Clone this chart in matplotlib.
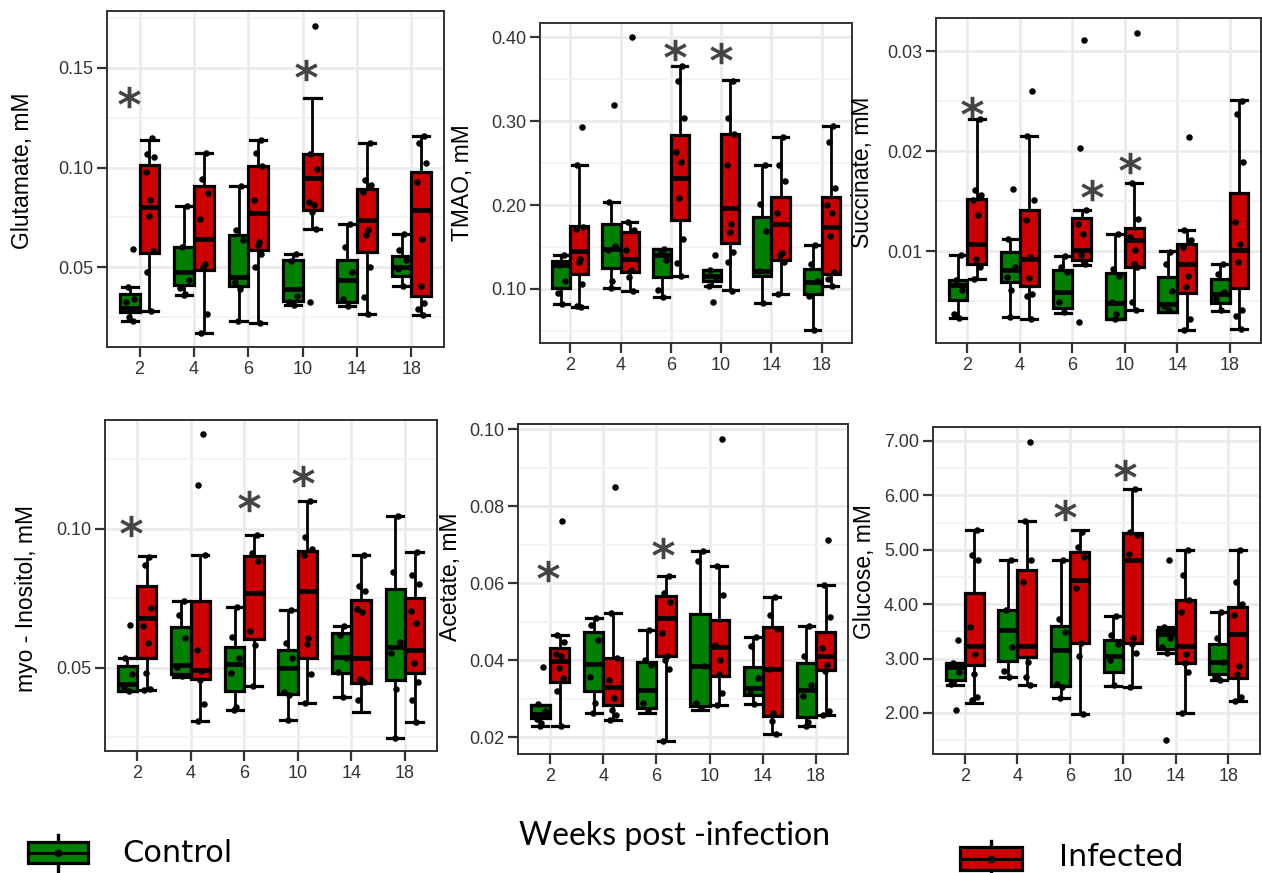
import numpy as np
import matplotlib
matplotlib.use("Agg")
import matplotlib.pyplot as plt
from matplotlib.textpath import TextPath
from matplotlib.font_manager import FontProperties
from matplotlib.path import Path
from matplotlib.patches import Rectangle
from matplotlib.ticker import FixedLocator, NullFormatter

plt.rcParams["font.family"] = ["Liberation Sans", "DejaVu Sans"]

WEEKS = ["2", "4", "6", "10", "14", "18"]

# ---- box statistics per week: (whisker low, Q1, median, Q3, whisker high) ----
glu_ctrl_stats = [(0.0228, 0.0275, 0.0295, 0.0367, 0.0400), (0.0362, 0.0409, 0.0476, 0.0601, 0.0807),
                  (0.0228, 0.0404, 0.0450, 0.0660, 0.0908), (0.0313, 0.0333, 0.0392, 0.0534, 0.0565),
                  (0.0308, 0.0325, 0.0437, 0.0538, 0.0715), (0.0404, 0.0454, 0.0500, 0.0554, 0.0665)]
glu_inf_stats = [(0.0283, 0.0573, 0.0802, 0.1015, 0.1140), (0.0169, 0.0484, 0.0643, 0.0906, 0.1074),
                 (0.0220, 0.0588, 0.0774, 0.1008, 0.1140), (0.0692, 0.0786, 0.0950, 0.1067, 0.1347),
                 (0.0263, 0.0575, 0.0739, 0.0894, 0.1124), (0.0258, 0.0355, 0.0789, 0.0978, 0.1157)]
glu_ctrl_pts = [[0.0593, 0.0400, 0.0340, 0.0325, 0.0290, 0.0250, 0.0230],
                [0.0807, 0.0601, 0.0437, 0.0397, 0.0367, 0.0362],
                [0.0908, 0.0685, 0.0638, 0.0425, 0.0390, 0.0228],
                [0.0565, 0.0530, 0.0358, 0.0325, 0.0313],
                [0.0715, 0.0600, 0.0476, 0.0342, 0.0308],
                [0.0665, 0.0588, 0.0534, 0.0492, 0.0404]]
glu_inf_pts = [[0.1146, 0.1067, 0.1054, 0.0977, 0.0836, 0.0755, 0.0580, 0.0476, 0.0283],
               [0.1074, 0.0945, 0.0873, 0.0740, 0.0518, 0.0500, 0.0266, 0.0169],
               [0.1140, 0.1074, 0.1007, 0.0836, 0.0627, 0.0610, 0.0568, 0.0500, 0.0220],
               [0.1710, 0.1070, 0.0995, 0.0828, 0.0810, 0.0776, 0.0692, 0.0325],
               [0.1124, 0.0936, 0.0911, 0.0878, 0.0688, 0.0660, 0.0500, 0.0353, 0.0263],
               [0.1157, 0.1124, 0.1023, 0.0928, 0.0643, 0.0404, 0.0320, 0.0291, 0.0258]]

tmao_ctrl_stats = [(0.0817, 0.1016, 0.129, 0.133, 0.141), (0.1016, 0.125, 0.148, 0.177, 0.2036),
                   (0.0905, 0.114, 0.140, 0.148, 0.148), (0.103, 0.110, 0.115, 0.123, 0.123),
                   (0.0833, 0.115, 0.121, 0.1858, 0.248), (0.0508, 0.0936, 0.108, 0.124, 0.152)]
tmao_inf_stats = [(0.0786, 0.1175, 0.145, 0.175, 0.248), (0.0976, 0.120, 0.136, 0.168, 0.180),
                  (0.115, 0.1826, 0.2326, 0.283, 0.366), (0.0984, 0.1548, 0.197, 0.285, 0.3485),
                  (0.0936, 0.135, 0.177, 0.209, 0.281), (0.103, 0.1175, 0.174, 0.210, 0.2937)]
tmao_ctrl_pts = [[0.141, 0.129, 0.110, 0.095, 0.082],
                 [0.319, 0.204, 0.151, 0.146, 0.1095, 0.1016],
                 [0.148, 0.142, 0.134, 0.0984, 0.0905],
                 [0.140, 0.123, 0.114, 0.103, 0.0845],
                 [0.248, 0.2016, 0.169, 0.121, 0.0833],
                 [0.152, 0.130, 0.110, 0.092, 0.0508]]
tmao_inf_pts = [[0.293, 0.248, 0.174, 0.171, 0.136, 0.132, 0.106, 0.080, 0.0786],
                [0.400, 0.180, 0.170, 0.147, 0.123, 0.114, 0.0976],
                [0.366, 0.348, 0.304, 0.263, 0.251, 0.208, 0.159, 0.131, 0.115],
                [0.348, 0.304, 0.285, 0.248, 0.177, 0.168, 0.144, 0.132, 0.098],
                [0.281, 0.248, 0.229, 0.190, 0.143, 0.140, 0.132, 0.094],
                [0.294, 0.275, 0.220, 0.200, 0.191, 0.163, 0.120, 0.112, 0.103]]

suc_ctrl_stats = [(0.00329, 0.00506, 0.0066, 0.00706, 0.00957), (0.0034, 0.0069, 0.0081, 0.0099, 0.0112),
                  (0.0038, 0.0043, 0.0059, 0.0081, 0.0095), (0.0032, 0.0032, 0.0048, 0.0078, 0.0117),
                  (0.0039, 0.0039, 0.0047, 0.0074, 0.0100), (0.0040, 0.0048, 0.0057, 0.0072, 0.0087)]
suc_inf_stats = [(0.00723, 0.00866, 0.0107, 0.01524, 0.0232), (0.0032, 0.00646, 0.0092, 0.0141, 0.0215),
                 (0.0086, 0.0091, 0.0101, 0.0133, 0.0141), (0.0041, 0.0084, 0.0111, 0.0123, 0.0168),
                 (0.0021, 0.0058, 0.0087, 0.0107, 0.0121), (0.0022, 0.0063, 0.0101, 0.0158, 0.0251)]
suc_ctrl_pts = [[0.00957, 0.0071, 0.0061, 0.0037, 0.0033],
                [0.0162, 0.0112, 0.0084, 0.0074, 0.0061, 0.0034],
                [0.0095, 0.0084, 0.0079, 0.0049, 0.0039],
                [0.0117, 0.0082, 0.0075, 0.0049, 0.0037, 0.0032],
                [0.0099, 0.0087, 0.0060, 0.0045, 0.0041],
                [0.0087, 0.0077, 0.0059, 0.0052, 0.0041]]
suc_inf_pts = [[0.0232, 0.0161, 0.0156, 0.0151, 0.0136, 0.0092, 0.0084, 0.0072],
               [0.0260, 0.0215, 0.0151, 0.0131, 0.0094, 0.0073, 0.0057, 0.0055, 0.0032],
               [0.0311, 0.0203, 0.0141, 0.0127, 0.0117, 0.0096, 0.0087, 0.0029],
               [0.0318, 0.0168, 0.0132, 0.0114, 0.0101, 0.0087, 0.0084, 0.0049, 0.0041],
               [0.0214, 0.0121, 0.0111, 0.0104, 0.0075, 0.0064, 0.0032, 0.0021],
               [0.0250, 0.0237, 0.0189, 0.0129, 0.0107, 0.0089, 0.0041, 0.0035, 0.0022]]

myo_ctrl_stats = [(0.0417, 0.0417, 0.0443, 0.0506, 0.0536), (0.0467, 0.0477, 0.0510, 0.0648, 0.0739),
                  (0.0347, 0.0417, 0.0513, 0.0576, 0.0720), (0.0313, 0.0405, 0.0498, 0.0564, 0.0708),
                  (0.0395, 0.0482, 0.0540, 0.0624, 0.0652), (0.0248, 0.0455, 0.0576, 0.0783, 0.1046)]
myo_inf_stats = [(0.0419, 0.0534, 0.0678, 0.0793, 0.0901), (0.0308, 0.0461, 0.0492, 0.0739, 0.0905),
                 (0.0434, 0.0604, 0.0769, 0.0904, 0.0980), (0.0373, 0.0534, 0.0775, 0.0919, 0.1100),
                 (0.0343, 0.0446, 0.0536, 0.0745, 0.0907), (0.0305, 0.0482, 0.0566, 0.0753, 0.0917)]
myo_ctrl_pts = [[0.0654, 0.0536, 0.0477, 0.0431, 0.0417],
                [0.0739, 0.0690, 0.0608, 0.0504, 0.0470],
                [0.0720, 0.0612, 0.0534, 0.0482, 0.0359, 0.0347],
                [0.0708, 0.0590, 0.0537, 0.0413, 0.0401, 0.0313],
                [0.0652, 0.0618, 0.0534, 0.0486, 0.0395],
                [0.1046, 0.0845, 0.0594, 0.0552, 0.0425, 0.0248]]
myo_inf_pts = [[0.0900, 0.0871, 0.0714, 0.0650, 0.0588, 0.0480, 0.0425, 0.0419],
               [0.1340, 0.1157, 0.0905, 0.0566, 0.0490, 0.0455, 0.0371, 0.0308],
               [0.0980, 0.0913, 0.0883, 0.0634, 0.0582, 0.0434],
               [0.1100, 0.0971, 0.0928, 0.0907, 0.0606, 0.0586, 0.0477, 0.0373],
               [0.0907, 0.0793, 0.0778, 0.0711, 0.0702, 0.0461, 0.0449, 0.0383],
               [0.0917, 0.0835, 0.0802, 0.0706, 0.0660, 0.0516, 0.0449, 0.0386, 0.0305]]

ace_ctrl_stats = [(0.0230, 0.0249, 0.0260, 0.0284, 0.0284), (0.0262, 0.0319, 0.0390, 0.0473, 0.0509),
                  (0.0262, 0.0275, 0.0323, 0.0394, 0.0479), (0.0269, 0.0281, 0.0384, 0.0520, 0.0684),
                  (0.0286, 0.0310, 0.0327, 0.0381, 0.0460), (0.0228, 0.0252, 0.0323, 0.0392, 0.0489)]
ace_inf_stats = [(0.0229, 0.0342, 0.0397, 0.0431, 0.0464), (0.0243, 0.0284, 0.0329, 0.0405, 0.0522),
                 (0.0191, 0.0410, 0.0509, 0.0567, 0.0617), (0.0284, 0.0359, 0.0435, 0.0505, 0.0645),
                 (0.0209, 0.0255, 0.0377, 0.0487, 0.0565), (0.0258, 0.0375, 0.0410, 0.0474, 0.0596)]
ace_ctrl_pts = [[0.0381, 0.0287, 0.0267, 0.0247, 0.0236, 0.0230],
                [0.0509, 0.0492, 0.0451, 0.0356, 0.0288, 0.0262],
                [0.0479, 0.0399, 0.0388, 0.0288, 0.0267],
                [0.0684, 0.0656, 0.0384, 0.0288, 0.0275],
                [0.0460, 0.0436, 0.0353, 0.0314, 0.0287],
                [0.0489, 0.0411, 0.0336, 0.0306, 0.0238, 0.0228]]
ace_inf_pts = [[0.0762, 0.0464, 0.0446, 0.0416, 0.0410, 0.0379, 0.0353, 0.0320, 0.0229],
               [0.0849, 0.0522, 0.0405, 0.0347, 0.0301, 0.0271, 0.0258, 0.0243],
               [0.0617, 0.0574, 0.0550, 0.0470, 0.0410, 0.0399, 0.0377, 0.0191],
               [0.0974, 0.0645, 0.0568, 0.0440, 0.0401, 0.0365, 0.0314, 0.0284],
               [0.0565, 0.0518, 0.0480, 0.0377, 0.0262, 0.0241, 0.0209],
               [0.0713, 0.0596, 0.0513, 0.0431, 0.0388, 0.0371, 0.0267, 0.0258]]

glc_ctrl_stats = [(2.51, 2.61, 2.85, 2.92, 2.92), (2.67, 2.95, 3.53, 3.90, 4.82),
                  (2.28, 2.49, 3.15, 3.59, 4.81), (2.49, 2.75, 3.04, 3.35, 3.78),
                  (3.10, 3.18, 3.46, 3.53, 3.58), (2.60, 2.72, 2.94, 3.27, 3.86)]
glc_inf_stats = [(2.18, 2.88, 3.23, 4.21, 5.36), (2.51, 3.03, 3.23, 4.62, 5.52),
                 (1.98, 3.29, 4.44, 4.96, 5.37), (2.47, 3.29, 4.82, 5.30, 6.11),
                 (2.00, 2.92, 3.23, 4.08, 5.00), (2.22, 2.65, 3.46, 3.94, 4.99)]
glc_ctrl_pts = [[3.34, 2.91, 2.75, 2.54, 2.05],
                [4.82, 3.90, 3.21, 2.77, 2.67],
                [4.81, 3.72, 3.49, 2.54, 2.47, 2.28],
                [3.78, 3.44, 3.26, 2.97, 2.51],
                [4.82, 3.58, 3.38, 3.21, 3.10, 1.50],
                [3.86, 3.38, 2.94, 2.66, 2.60]]
glc_inf_pts = [[5.36, 4.90, 4.81, 3.58, 3.09, 2.72, 2.29, 2.23],
               [6.99, 5.52, 4.81, 4.41, 2.94, 2.67, 2.51],
               [5.33, 5.05, 4.87, 4.30, 3.29, 3.04, 1.98],
               [6.11, 5.33, 5.27, 4.93, 3.37, 3.27, 3.10, 2.47],
               [5.00, 4.53, 4.08, 3.86, 3.09, 2.91, 2.75, 2.00],
               [4.99, 4.41, 4.00, 3.81, 2.86, 2.71, 2.29, 2.22]]

# ---- styling ----
GREEN = "#008000"
RED = "#CC0000"
INK = "#333333"
GRID = "#EBEBEB"
STAR_COLOR = "#444444"
OFF = 0.18      # dodge offset of each group from the week position
BOXW = 0.36     # box width
CAPW = 0.30     # whisker cap width
JITTER = np.array([0.05, -0.04, 0.08, -0.07, 0.02, -0.01, 0.06, -0.05, 0.03])

W, H = 1262, 873
fig = plt.figure(figsize=(W / 100, H / 100), dpi=100)


def px_axes(left, top, right, bottom):
    return fig.add_axes([left / W, 1 - bottom / H, (right - left) / W, (bottom - top) / H])


# centred bold asterisk used as significance marker
_tp = TextPath((0, 0), "*", size=1, prop=FontProperties(family="DejaVu Sans", weight="bold"))
_ext = _tp.get_extents()
_verts = _tp.vertices - [(_ext.x0 + _ext.x1) / 2, (_ext.y0 + _ext.y1) / 2]
_verts[_tp.codes == Path.CLOSEPOLY] = 0.0
STAR = Path(_verts, _tp.codes)


def draw_panel(ax, ctrl_stats, inf_stats, ctrl_pts, inf_pts, major, minor, ylim, fmt, stars):
    pos = np.arange(1, len(WEEKS) + 1)
    for stats, pts, color, shift in ((ctrl_stats, ctrl_pts, GREEN, -OFF),
                                     (inf_stats, inf_pts, RED, OFF)):
        bstats = [dict(whislo=s[0], q1=s[1], med=s[2], q3=s[3], whishi=s[4], fliers=[]) for s in stats]
        ax.bxp(bstats, positions=pos + shift, widths=BOXW, capwidths=CAPW, patch_artist=True,
               showfliers=False, manage_ticks=False,
               boxprops=dict(facecolor=color, edgecolor="black", linewidth=2.3),
               medianprops=dict(color="black", linewidth=3.4, solid_capstyle="butt"),
               whiskerprops=dict(color="black", linewidth=2.0),
               capprops=dict(color="black", linewidth=2.3))
        for i, vals in enumerate(pts):
            xs = pos[i] + shift + JITTER[:len(vals)]
            ax.scatter(xs, vals, s=22, color="black", linewidths=0, zorder=5)
    for idx, dx, y in stars:
        ax.plot(pos[idx] + dx, y, marker=STAR, markersize=16, color=STAR_COLOR,
                markeredgewidth=0, linestyle="none", zorder=6)

    ax.set_xlim(0.4, len(WEEKS) + 0.6)
    ax.set_ylim(*ylim)
    ax.set_xticks(pos)
    ax.set_xticklabels(WEEKS)
    ax.yaxis.set_major_locator(FixedLocator(major))
    ax.set_yticklabels([fmt.format(v) for v in major])
    ax.yaxis.set_minor_locator(FixedLocator(minor))
    ax.yaxis.set_minor_formatter(NullFormatter())
    ax.set_axisbelow(True)
    ax.grid(True, which="major", color=GRID, linewidth=2.0)
    ax.grid(True, which="minor", axis="y", color="#F2F2F2", linewidth=1.2)
    ax.tick_params(axis="both", which="major", length=7, width=1.6, color=INK,
                   labelsize=13, labelcolor=INK, pad=3)
    ax.tick_params(axis="y", which="minor", length=0)
    for sp in ax.spines.values():
        sp.set_color(INK)
        sp.set_linewidth(1.4)


panels = [
    dict(box=(107, 11, 444, 347), lab=(23, 171), name="Glutamate, mM",
         data=(glu_ctrl_stats, glu_inf_stats, glu_ctrl_pts, glu_inf_pts),
         major=[0.05, 0.10, 0.15], minor=[0.025, 0.075, 0.125, 0.175], ylim=(0.010, 0.1785), fmt="{:.2f}",
         stars=[(0, -0.20, 0.1355), (3, 0.06, 0.149)]),
    dict(box=(540, 23, 852, 343), lab=(463, 183), name="TMAO, mM",
         data=(tmao_ctrl_stats, tmao_inf_stats, tmao_ctrl_pts, tmao_inf_pts),
         major=[0.10, 0.20, 0.30, 0.40], minor=[0.05, 0.15, 0.25, 0.35], ylim=(0.0357, 0.4167), fmt="{:.2f}",
         stars=[(2, 0.09, 0.385), (3, 0.0, 0.381)]),
    dict(box=(936, 18, 1261, 343), lab=(863, 172), name="Succinate, mM",
         data=(suc_ctrl_stats, suc_inf_stats, suc_ctrl_pts, suc_inf_pts),
         major=[0.01, 0.02, 0.03], minor=[0.005, 0.015, 0.025], ylim=(0.0008, 0.0333), fmt="{:.2f}",
         stars=[(0, 0.09, 0.0244), (2, 0.37, 0.0161), (3, 0.10, 0.0188)]),
    dict(box=(105, 420, 437, 751), lab=(27, 598), name="myo - Inositol, mM",
         data=(myo_ctrl_stats, myo_inf_stats, myo_ctrl_pts, myo_inf_pts),
         major=[0.05, 0.10], minor=[0.025, 0.075, 0.125], ylim=(0.0201, 0.1392), fmt="{:.2f}",
         stars=[(0, -0.12, 0.1012), (2, 0.08, 0.110), (3, 0.10, 0.119)]),
    dict(box=(518, 424, 848, 754), lab=(450, 577), name="Acetate, mM",
         data=(ace_ctrl_stats, ace_inf_stats, ace_ctrl_pts, ace_inf_pts),
         major=[0.02, 0.04, 0.06, 0.08, 0.10], minor=[0.03, 0.05, 0.07, 0.09], ylim=(0.0156, 0.1013),
         fmt="{:.2f}", stars=[(0, -0.03, 0.0632), (2, 0.12, 0.0691)]),
    dict(box=(933, 427, 1260, 754), lab=(864, 572), name="Glucose, mM",
         data=(glc_ctrl_stats, glc_inf_stats, glc_ctrl_pts, glc_inf_pts),
         major=[2, 3, 4, 5, 6, 7], minor=[1.5, 2.5, 3.5, 4.5, 5.5, 6.5], ylim=(1.246, 7.257), fmt="{:.2f}",
         stars=[(2, -0.09, 5.73), (3, 0.04, 6.46)]),
]

for p in panels:
    ax = px_axes(*p["box"])
    draw_panel(ax, *p["data"], p["major"], p["minor"], p["ylim"], p["fmt"], p["stars"])
    fig.text(p["lab"][0] / W, 1 - p["lab"][1] / H, p["name"], rotation=90, ha="center", va="center",
             fontsize=16.5, color="black")

# shared x label
fig.text(674.5 / W, 1 - 845 / H, "Weeks post -infection", ha="center", va="baseline",
         fontsize=23, family=["Lato", "DejaVu Sans"], color="black")

# legend keys drawn on a full-figure overlay in pixel units
lax = fig.add_axes([0, 0, 1, 1])
lax.set_xlim(0, W)
lax.set_ylim(H, 0)
lax.axis("off")


def legend_key(x0, x1, y0, y1, ytop, ybot, color, label, tx, ty):
    xc = (x0 + x1) / 2
    ym = (y0 + y1) / 2
    lax.plot([xc, xc], [ytop, ybot], color="black", linewidth=2.4, zorder=1)
    lax.add_patch(Rectangle((x0, y0), x1 - x0, y1 - y0, facecolor=color, edgecolor="black",
                            linewidth=2.3, zorder=2))
    lax.plot([x0, x1], [ym, ym], color="black", linewidth=2.2, zorder=3)
    lax.plot([xc], [ym], marker="o", markersize=4.5, color="black", zorder=4)
    lax.text(tx, ty, label, ha="left", va="center", fontsize=22, family=["DejaVu Sans"], color="black")


legend_key(28, 88, 842, 863, 835, 871, GREEN, "Control", 122, 853)
legend_key(960, 1022, 847, 870, 841, 873, RED, "Infected", 1059, 858)

fig.savefig("out.png", dpi=100)
